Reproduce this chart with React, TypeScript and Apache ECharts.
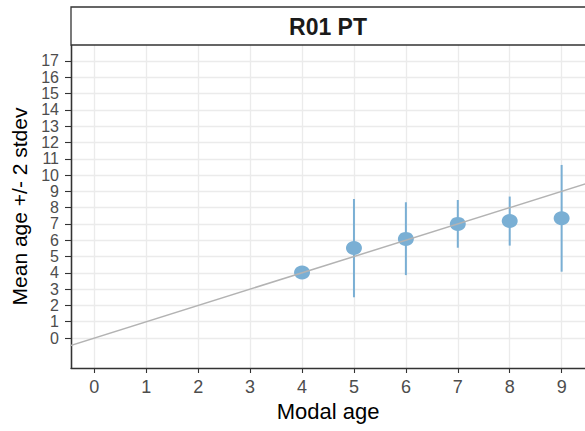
import React, { useEffect, useRef } from "react";
import * as echarts from "echarts";

const modalAges = [4, 5, 6, 7, 8, 9];
const meanAges = [4.02, 5.52, 6.08, 7.0, 7.18, 7.35];
const lowerBounds = [4.02, 2.5, 3.86, 5.54, 5.67, 4.07];
const upperBounds = [4.02, 8.53, 8.33, 8.47, 8.68, 10.62];
const xTicks = [0, 1, 2, 3, 4, 5, 6, 7, 8, 9];
const yTicksEven = [0, 2, 4, 6, 8, 10, 12, 14, 16];
const yTicksOdd = [1, 3, 5, 7, 9, 11, 13, 15, 17];
const refLineX = [-1, 20];
const stripLabel = "R01 PT";
const xTitle = "Modal age";
const yTitle = "Mean age +/- 2 stdev";

const FONT = "Liberation Sans, Arial, Helvetica, sans-serif";
const POINT_COLOR = "#7AAFD4";
const Y_MIN = -1.84;
const Y_MAX = 17.98;

function yAxisFor(ticks: number[], withName: boolean): any {
  return {
    type: "value",
    position: "left",
    min: Y_MIN,
    max: Y_MAX,
    name: withName ? yTitle : "",
    nameLocation: "middle",
    nameGap: 40,
    nameTextStyle: { color: "#000000", fontSize: 21, fontFamily: FONT },
    axisLine: { show: true, onZero: false, lineStyle: { color: "#333333", width: 1.3 } },
    axisTick: { show: true, customValues: ticks, length: 6, lineStyle: { color: "#333333", width: 1.1 } },
    axisLabel: {
      customValues: ticks,
      margin: 12,
      color: "#4d4d4d",
      fontSize: 16,
      fontFamily: FONT,
      showMinLabel: true,
      showMaxLabel: true,
    },
    splitLine: { show: true, lineStyle: { color: "#ebebeb", width: 1.3 } },
  };
}

export default function App() {
  const ref = useRef<HTMLDivElement>(null);

  useEffect(() => {
    document.body.style.margin = "0";
    if (!ref.current) return;
    const chart = echarts.init(ref.current, undefined, { renderer: "svg" });

    const points = modalAges.map((x, i) => [x, meanAges[i]]);
    const bars = modalAges.map((x, i) => [x, lowerBounds[i], upperBounds[i]]);
    const refLine = refLineX.map((v) => [v, v]);

    const option: any = {
      animation: false,
      backgroundColor: "#ffffff",
      grid: { left: 71, top: 45, width: 515.4, bottom: 63, containLabel: false },
      xAxis: {
        type: "value",
        min: -0.45,
        max: 9.45,
        name: xTitle,
        nameLocation: "middle",
        nameGap: 29,
        nameTextStyle: { color: "#000000", fontSize: 22, fontFamily: FONT },
        axisLine: { show: true, onZero: false, lineStyle: { color: "#333333", width: 1.3 } },
        axisTick: { show: true, customValues: xTicks, length: 5, lineStyle: { color: "#333333", width: 1.1 } },
        axisLabel: {
          customValues: xTicks,
          margin: 10,
          color: "#4d4d4d",
          fontSize: 18,
          fontFamily: FONT,
          showMinLabel: true,
          showMaxLabel: true,
        },
        splitLine: { show: true, lineStyle: { color: "#ebebeb", width: 1.3 } },
      },
      yAxis: [yAxisFor(yTicksEven, true), yAxisFor(yTicksOdd, false)],
      graphic: [
        {
          type: "rect",
          shape: { x: 71, y: 7, width: 530, height: 38 },
          style: { fill: "#ffffff", stroke: "#333333", lineWidth: 1.3 },
          z: 10,
        },
        {
          type: "text",
          x: 328,
          y: 27,
          style: {
            text: stripLabel,
            font: `bold 23px ${FONT}`,
            fill: "#1a1a1a",
            align: "center",
            verticalAlign: "middle",
            textAlign: "center",
            textVerticalAlign: "middle",
          },
          z: 11,
        },
      ],
      series: [
        {
          type: "custom",
          data: bars,
          encode: { x: 0, y: [1, 2] },
          z: 2,
          renderItem: (params: any, api: any) => {
            const x = api.value(0);
            const p1 = api.coord([x, api.value(1)]);
            const p2 = api.coord([x, api.value(2)]);
            return {
              type: "line",
              shape: { x1: p1[0], y1: p1[1], x2: p2[0], y2: p2[1] },
              style: { stroke: POINT_COLOR, lineWidth: 2 },
            };
          },
        },
        {
          type: "scatter",
          data: points,
          symbol: "circle",
          symbolSize: [16, 14],
          itemStyle: { color: POINT_COLOR, opacity: 1 },
          z: 3,
        },
        {
          type: "line",
          data: refLine,
          showSymbol: false,
          symbol: "none",
          clip: true,
          lineStyle: { color: "#b3b3b3", width: 1.5 },
          z: 4,
        },
      ],
    };

    chart.setOption(option);
    return () => chart.dispose();
  }, []);

  return (
    <div
      ref={ref}
      style={{ position: "absolute", left: 0, top: 0, width: 585, height: 431 }}
    />
  );
}
